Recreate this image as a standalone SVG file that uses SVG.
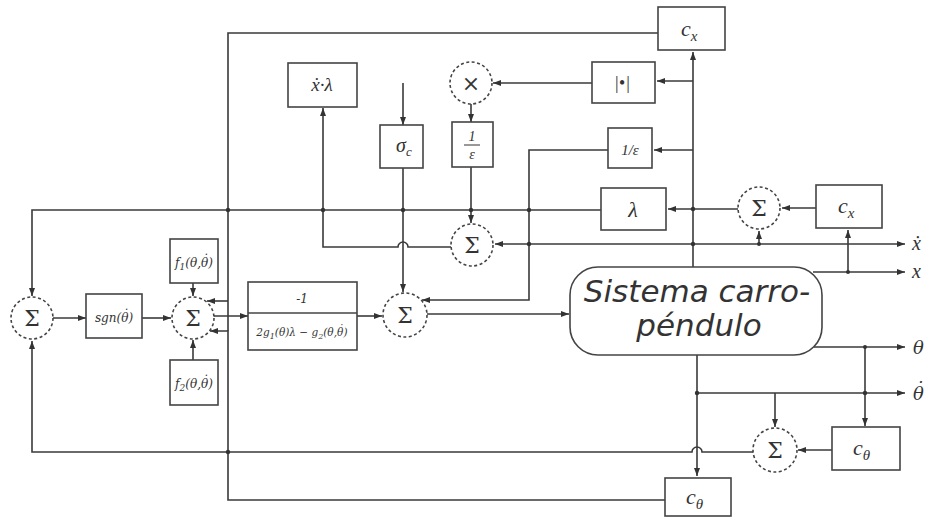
<svg xmlns="http://www.w3.org/2000/svg" width="930" height="521" viewBox="0 0 930 521">
<defs>
<marker id="ah" viewBox="0 0 8 6" refX="8" refY="3" markerWidth="8" markerHeight="6" markerUnits="userSpaceOnUse" orient="auto"><path d="M0,0 L8,3 L0,6 z" fill="#333"/></marker>
<style>
.b{fill:#fff;stroke:#444;stroke-width:1.6}
.s{fill:#fff;stroke:#444;stroke-width:1.6;stroke-dasharray:3 2.5}
.c{fill:none;stroke:#3a3a3a;stroke-width:1.6}
.a{fill:none;stroke:#3a3a3a;stroke-width:1.6;marker-end:url(#ah)}
.d{fill:#333}
.t{font-family:"Liberation Serif",serif;font-style:italic;fill:#333}
.u{font-family:"DejaVu Serif",serif;font-style:italic;fill:#333}
.g{font-family:"DejaVu Serif",serif;fill:#333;font-size:22px}
.sy{font-family:"DejaVu Sans",sans-serif;font-style:italic;fill:#333;font-size:31px}
</style>
</defs>
<rect width="930" height="521" fill="#fff"/>
<g id="connectors">
<path class="a" d="M693,267 V52"/>
<path class="a" d="M693,81 H657"/>
<path class="a" d="M693,150 H654"/>
<path class="a" d="M693,244 H905"/>
<path class="a" d="M693,244 H495"/>
<path class="a" d="M738,209 H668"/>
<path class="a" d="M759,244 V231"/>
<path class="a" d="M816,208 H782"/>
<path class="a" d="M848,272 V230"/>
<path class="a" d="M813,272 H905"/>
<path class="a" d="M601,210 H32 V296"/>
<path class="c" d="M658,33 H228 V331"/>
<path class="a" d="M228,301 H207"/>
<path class="a" d="M665,500 H228 V331 H210"/>
<path class="a" d="M753,452 H702 a5,5 0 0 0 -10,0 H32 V341"/>
<path class="a" d="M775,393 V427"/>
<path class="a" d="M832,450 H798"/>
<path class="a" d="M865,347 V426"/>
<path class="a" d="M814,347 H905"/>
<path class="a" d="M697,355 V476"/>
<path class="a" d="M697,393 H905"/>
<path class="a" d="M53,318 H86"/>
<path class="a" d="M142,318 H171"/>
<path class="a" d="M193,283 V296"/>
<path class="a" d="M193,360 V340"/>
<path class="a" d="M214,316 H248"/>
<path class="a" d="M357,316 H382"/>
<path class="a" d="M403,83 V125"/>
<path class="a" d="M403,168 V292"/>
<path class="a" d="M608,150 H529 V300 H422"/>
<path class="a" d="M592,83 H493"/>
<path class="a" d="M471,104 V122"/>
<path class="a" d="M471,167 V223"/>
<path class="a" d="M451,247 H408 a5,5 0 0 0 -10,0 H323 V108"/>
<path class="a" d="M427,314 H569"/>
<circle class="d" cx="693" cy="209" r="2.2"/>
<circle class="d" cx="693" cy="244" r="2.2"/>
<circle class="d" cx="759" cy="244" r="2"/>
<circle class="d" cx="848" cy="272" r="2"/>
<circle class="d" cx="228" cy="210" r="2.2"/>
<circle class="d" cx="323" cy="210" r="2.2"/>
<circle class="d" cx="403" cy="210" r="2.2"/>
<circle class="d" cx="471" cy="210" r="2.2"/>
<circle class="d" cx="529" cy="210" r="2.2"/>
<circle class="d" cx="529" cy="244" r="2.2"/>
<circle class="d" cx="228" cy="452" r="2.2"/>
<circle class="d" cx="697" cy="393" r="2.2"/>
<circle class="d" cx="865" cy="393" r="2.2"/>
<circle class="d" cx="865" cy="347" r="2"/>
</g>
<g id="cx_top"><rect class="b" x="658" y="7" width="67" height="43"/><text class="t" x="681" y="36" font-size="22">c<tspan font-size="15" dy="5">x</tspan></text></g>
<g id="abs"><rect class="b" x="592" y="62" width="63" height="41"/><text class="t" x="622" y="89" font-size="18" text-anchor="middle">|•|</text></g>
<g id="inv_eps"><rect class="b" x="608" y="128" width="44" height="40"/><text class="t" x="630" y="155" font-size="15" text-anchor="middle">1/ε</text></g>
<g id="lambda"><rect class="b" x="601" y="188" width="65" height="42"/><text class="t" x="633" y="217" font-size="22" text-anchor="middle">λ</text></g>
<g id="sum_right"><circle class="s" cx="759" cy="208" r="21"/><text class="g" x="759" y="216" text-anchor="middle">Σ</text></g>
<g id="cx_right"><rect class="b" x="816" y="185" width="66" height="43"/><text class="t" x="838" y="213" font-size="22">c<tspan font-size="15" dy="5">x</tspan></text></g>
<g id="sistema"><rect class="b" x="570" y="267" width="252" height="88" rx="28"/><text class="sy" x="697" y="302" text-anchor="middle">Sistema carro-</text><text class="sy" x="699" y="336" text-anchor="middle">péndulo</text></g>
<g id="ctheta_right"><rect class="b" x="832" y="427" width="68" height="43"/><text class="t" x="853" y="455" font-size="22">c<tspan font-size="15" dy="5">θ</tspan></text></g>
<g id="sum_bottom"><circle class="s" cx="775" cy="450" r="22"/><text class="g" x="775" y="458" text-anchor="middle">Σ</text></g>
<g id="ctheta_bottom"><rect class="b" x="665" y="478" width="66" height="38"/><text class="t" x="686" y="504" font-size="22">c<tspan font-size="15" dy="5">θ</tspan></text></g>
<g id="mult"><circle class="s" cx="471" cy="83" r="21"/><text class="g" x="471" y="91" text-anchor="middle">×</text></g>
<g id="inv_eps2"><rect class="b" x="452" y="122" width="41" height="45"/><text class="t" x="472" y="141" font-size="14" text-anchor="middle">1</text><line x1="464" y1="145" x2="480" y2="145" stroke="#333" stroke-width="1"/><text class="t" x="472" y="159" font-size="14" text-anchor="middle">ε</text></g>
<g id="sigma_c"><rect class="b" x="380" y="125" width="43" height="43"/><text class="t" x="396" y="152" font-size="20">σ<tspan font-size="13" dy="4">c</tspan></text></g>
<g id="xlambda"><rect class="b" x="288" y="63" width="69" height="44"/><text class="t" x="322" y="91" font-size="19" text-anchor="middle">ẋ·λ</text></g>
<g id="sum_mid"><circle class="s" cx="472" cy="245" r="21"/><text class="g" x="472" y="253" text-anchor="middle">Σ</text></g>
<g id="sum_main"><circle class="s" cx="405" cy="315" r="22"/><text class="g" x="405" y="323" text-anchor="middle">Σ</text></g>
<g id="gain"><rect class="b" x="248" y="282" width="109" height="68"/><line x1="248" y1="313" x2="357" y2="313" stroke="#444" stroke-width="1.4"/><text class="u" x="302" y="303" font-size="12" text-anchor="middle">-1</text><text class="u" x="302" y="336" font-size="10.5" text-anchor="middle">2g<tspan font-size="8" dy="3">1</tspan><tspan dy="-3">(θ)λ − g</tspan><tspan font-size="8" dy="3">2</tspan><tspan dy="-3">(θ,θ</tspan><tspan dx="-5" dy="-3">˙</tspan><tspan dy="3">)</tspan></text></g>
<g id="sum_inner"><circle class="s" cx="193" cy="318" r="21"/><text class="g" x="193" y="326" text-anchor="middle">Σ</text></g>
<g id="f1"><rect class="b" x="170" y="239" width="48" height="44"/><text class="u" x="194" y="267" font-size="12" text-anchor="middle">f<tspan font-size="9" dy="3">1</tspan><tspan dy="-3">(θ,θ</tspan><tspan dx="-6" dy="-3">˙</tspan><tspan dy="3">)</tspan></text></g>
<g id="f2"><rect class="b" x="170" y="360" width="48" height="45"/><text class="u" x="194" y="388" font-size="12" text-anchor="middle">f<tspan font-size="9" dy="3">2</tspan><tspan dy="-3">(θ,θ</tspan><tspan dx="-6" dy="-3">˙</tspan><tspan dy="3">)</tspan></text></g>
<g id="sgn"><rect class="b" x="86" y="294" width="56" height="44"/><text class="u" x="114" y="322" font-size="12" text-anchor="middle">sgn(θ<tspan dx="-6" dy="-3">˙</tspan><tspan dy="3">)</tspan></text></g>
<g id="sum_left"><circle class="s" cx="32" cy="318" r="21"/><text class="g" x="32" y="326" text-anchor="middle">Σ</text></g>
<g id="outputs">
<text class="t" x="912" y="250" font-size="20">ẋ</text>
<text class="t" x="912" y="278" font-size="20">x</text>
<text class="u" x="913" y="354" font-size="18">θ</text>
<text class="u" x="913" y="400" font-size="18">θ<tspan dx="-9" dy="-5">˙</tspan></text>
</g>
</svg>
